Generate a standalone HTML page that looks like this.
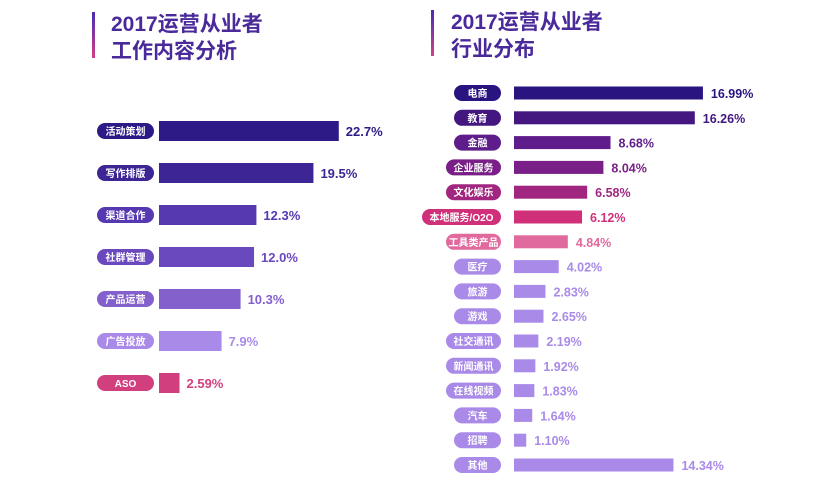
<!DOCTYPE html>
<html><head><meta charset="utf-8">
<style>
html,body{margin:0;padding:0;background:#fff;}
svg{display:block;font-family:"Liberation Sans","Noto Sans CJK SC",sans-serif;}
</style></head>
<body>
<svg id="c" width="840" height="480" viewBox="0 0 840 480">
<defs>
<linearGradient id="tg" x1="0" y1="0" x2="0" y2="1">
<stop offset="0" stop-color="#4a2ab0"/><stop offset="1" stop-color="#d0408a"/>
</linearGradient>
</defs>
<rect x="92" y="12" width="3" height="46" fill="url(#tg)"/>
<text x="111" y="31" font-size="21" font-weight="bold" fill="#4a2a9a">2017运营从业者</text>
<text x="111" y="58" font-size="21" font-weight="bold" fill="#4a2a9a">工作内容分析</text>
<rect x="431" y="10" width="3" height="46" fill="url(#tg)"/>
<text x="451" y="29" font-size="21" font-weight="bold" fill="#4a2a9a">2017运营从业者</text>
<text x="451" y="56" font-size="21" font-weight="bold" fill="#4a2a9a">行业分布</text>
<g id="left"></g>
<g id="right"></g>
</svg>
<script>
const leftCats=["活动策划","写作排版","渠道合作","社群管理","产品运营","广告投放","ASO"];
const leftVals=[22.7,19.5,12.3,12.0,10.3,7.9,2.59];
const leftLabels=["22.7%","19.5%","12.3%","12.0%","10.3%","7.9%","2.59%"];
const leftColors=["#2e1a87","#3d2596","#5638b0","#6a48bd","#8460cc","#a98ae8","#d13f7e"];

const rightCats=["电商","教育","金融","企业服务","文化娱乐","本地服务/O2O","工具类产品","医疗","旅游","游戏","社交通讯","新闻通讯","在线视频","汽车","招聘","其他"];
const rightVals=[16.99,16.26,8.68,8.04,6.58,6.12,4.84,4.02,2.83,2.65,2.19,1.92,1.83,1.64,1.10,14.34];
const rightLabels=["16.99%","16.26%","8.68%","8.04%","6.58%","6.12%","4.84%","4.02%","2.83%","2.65%","2.19%","1.92%","1.83%","1.64%","1.10%","14.34%"];
const rightColors=["#2a1480","#43177f","#5e1d8a","#7a1f87","#a0267f","#d0307a","#e06a9e","#a98ae8","#a98ae8","#a98ae8","#a98ae8","#a98ae8","#a98ae8","#a98ae8","#a98ae8","#a98ae8"];

const NS="http://www.w3.org/2000/svg";
function mk(tag,attrs,parent){const e=document.createElementNS(NS,tag);for(const k in attrs)e.setAttribute(k,attrs[k]);parent.appendChild(e);return e;}

const lx=v=>159+v*7.92;
const ly=i=>131+i*42;
const gl=document.getElementById('left');
leftCats.forEach((c,i)=>{
  const y=ly(i);
  const pw=57;
  const p=mk('rect',{x:154-pw,y:y-8,width:pw,height:16,rx:8,fill:leftColors[i]},gl);
  
  
  const t=mk('text',{x:154-pw/2,y:y+4,'font-size':10,'font-weight':'bold',fill:'#fff','text-anchor':'middle'},gl);
  t.textContent=c;
  
  
  const b=mk('rect',{x:lx(0),y:y-10,width:lx(leftVals[i])-lx(0),height:20,fill:leftColors[i]},gl);
  
  
  const v=mk('text',{x:lx(leftVals[i])+7,y:y+5,'font-size':13,'font-weight':'bold',fill:leftColors[i]},gl);
  v.textContent=leftLabels[i];
  
  
});

const rx=v=>514+v*11.12;
const ry=i=>93+i*24.8;
const gr=document.getElementById('right');
rightCats.forEach((c,i)=>{
  const y=ry(i);
  const pw=c.length>5?79:(c.length>=4?55:47);
  const p=mk('rect',{x:501-pw,y:y-8,width:pw,height:16,rx:8,fill:rightColors[i]},gr);
  
  
  const t=mk('text',{x:501-pw/2,y:y+4,'font-size':10,'font-weight':'bold',fill:'#fff','text-anchor':'middle'},gr);
  t.textContent=c;
  
  
  const b=mk('rect',{x:rx(0),y:y-6.5,width:rx(rightVals[i])-rx(0),height:13,fill:rightColors[i]},gr);
  
  
  const v=mk('text',{x:rx(rightVals[i])+8,y:y+5,'font-size':12.5,'font-weight':'bold',fill:rightColors[i]},gr);
  v.textContent=rightLabels[i];
  
  
});
</script>
</body></html>
